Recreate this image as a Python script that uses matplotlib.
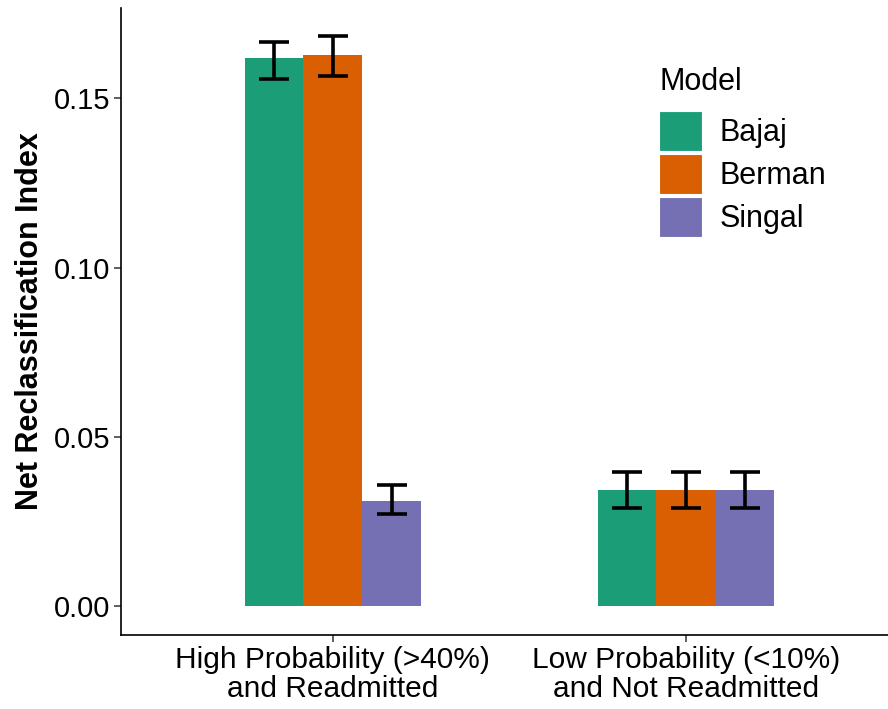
import numpy as np
import matplotlib
matplotlib.use("Agg")
import matplotlib.pyplot as plt

plt.rcParams['font.family'] = ['Liberation Sans', 'DejaVu Sans']

# data
groups = ["High Probability (>40%)\nand Readmitted", "Low Probability (<10%)\nand Not Readmitted"]
models = ["Bajaj", "Berman", "Singal"]
colors = ["#1B9E77", "#D95F02", "#7570B3"]
nri = {
    "Bajaj": [0.1618, 0.0342],
    "Berman": [0.1629, 0.0342],
    "Singal": [0.0311, 0.0342],
}
lower = {
    "Bajaj": [0.1557, 0.0289],
    "Berman": [0.1565, 0.0289],
    "Singal": [0.0272, 0.0289],
}
upper = {
    "Bajaj": [0.1667, 0.0396],
    "Berman": [0.1683, 0.0396],
    "Singal": [0.0357, 0.0396],
}

fig = plt.figure(figsize=(8.88, 7.09), dpi=100)
ax = fig.add_axes([121/888, 74/709, 1 - 121/888, (635-8)/709])

x = np.arange(1, len(groups) + 1)
w = 0.5 / len(models)
for i, m in enumerate(models):
    xs = x + (i - 1) * w
    v = np.array(nri[m])
    ax.bar(xs, v, width=w, color=colors[i], label=m, zorder=2)
    err = [v - np.array(lower[m]), np.array(upper[m]) - v]
    ax.errorbar(xs, v, yerr=err, fmt='none', ecolor='black', elinewidth=2.6,
                capsize=10.5, capthick=2.6, zorder=3)

ax.set_xlim(0.4, 2.573)
ax.set_ylim(-0.0086, 0.1767)
ax.set_xticks(x)
ax.set_xticklabels(groups, fontsize=21.5, linespacing=1.05)
ax.set_yticks([0, 0.05, 0.10, 0.15])
ax.set_yticklabels(["0.00", "0.05", "0.10", "0.15"], fontsize=21)
ax.tick_params(length=5, width=1.1, color='#333333', pad=3)
ax.set_ylabel("Net Reclassification Index", fontsize=22, fontweight='bold', labelpad=6)
for s in ['top', 'right']:
    ax.spines[s].set_visible(False)
for s in ['left', 'bottom']:
    ax.spines[s].set_linewidth(1.2)

leg = ax.legend(title="Model", fontsize=22, title_fontsize=22, frameon=False,
                loc='upper left', bbox_to_anchor=(659/888, 1 - 67/709),
                bbox_transform=fig.transFigure, handlelength=1.42, handleheight=1.64,
                labelspacing=0.1, handletextpad=0.55, borderpad=0, borderaxespad=0)
leg._legend_box.align = "left"
leg._legend_box.sep = 10
for p in leg.get_patches():
    p.set_edgecolor('white')
    p.set_linewidth(0.8)

fig.savefig("out.png", dpi=100)
